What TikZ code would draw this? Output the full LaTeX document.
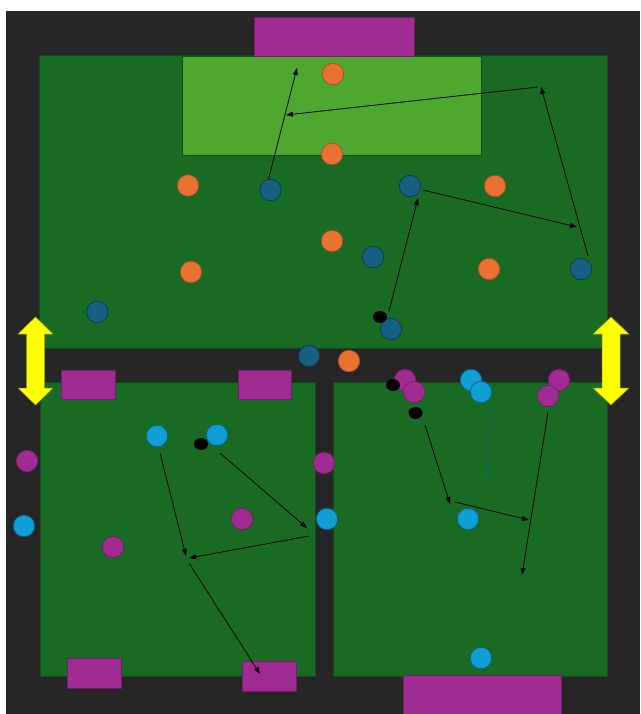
\documentclass[tikz,border=0pt]{standalone}
\usetikzlibrary{arrows.meta,shapes.geometric}
\definecolor{bgdark}{HTML}{262626}
\definecolor{pitch}{HTML}{196B24}
\definecolor{boxg}{HTML}{4EA72E}
\definecolor{goal}{HTML}{A02B93}
\definecolor{orng}{HTML}{E97132}
\definecolor{dblue}{HTML}{156082}
\definecolor{lblue}{HTML}{0F9ED5}
\definecolor{yel}{HTML}{FFFF00}
\begin{document}
\begin{tikzpicture}[x=1pt,y=-1pt,
  player/.style={circle, minimum size=21.5pt, inner sep=0pt, line width=0.7pt},
  orangep/.style={player, fill=orng, draw=orng!70!black},
  dbluep/.style={player, fill=dblue, draw=dblue!55!black},
  lbluep/.style={player, fill=lblue, draw=lblue!60!black},
  purplep/.style={player, fill=goal, draw=goal!70!black},
  ball/.style={ellipse, minimum width=14pt, minimum height=12pt, inner sep=0pt, fill=black},
  field/.style={fill=pitch, draw=pitch!70!black, line width=0.6pt},
  goalbox/.style={fill=goal, draw=goal!70!black, line width=0.6pt},
  mv/.style={draw=black, line width=0.8pt, -{Triangle[length=7pt,width=5pt]}},
  mvblue/.style={draw=dblue, line width=0.8pt, -{Triangle[length=6pt,width=4pt]}},
  yarrow/.style={fill=yel, draw=yel!60!black, line width=0.5pt}
]
\useasboundingbox (0,0) rectangle (640,714);
\fill[white] (0,0) rectangle (640,714);
\fill[bgdark] (6,11) rectangle (640,714);

% pitches
\path[field] (39,55) rectangle (607,348);
\path[fill=boxg, draw=pitch!70!black, line width=0.6pt] (182,56) rectangle (481,155);
\path[field] (40,382) rectangle (315,676);
\path[field] (333,382) rectangle (607,676);

% goals / boxes
\path[goalbox] (254,17) rectangle (414,56);
\path[goalbox] (61,370) rectangle (115,399);
\path[goalbox] (238,370) rectangle (291,399);
\path[goalbox] (67,658) rectangle (121,688);
\path[goalbox] (242,661) rectangle (296,691);
\path[goalbox] (403,675) rectangle (561,716);

% yellow double arrows
\path[yarrow] (35.5,317) -- (53,334) -- (44.5,334) -- (44.5,388) -- (53,388) -- (35.5,405)
  -- (18,388) -- (26.5,388) -- (26.5,334) -- (18,334) -- cycle;
\path[yarrow] (611,317) -- (629,334) -- (620,334) -- (620,388) -- (629,388) -- (611,405)
  -- (593,388) -- (602,388) -- (602,334) -- (593,334) -- cycle;

% movement coordinates
\coordinate (a1s) at (268.5,179); \coordinate (a1e) at (297,68);
\coordinate (a2s) at (538,87);    \coordinate (a2e) at (286,115);
\coordinate (a3s) at (588,256);   \coordinate (a3e) at (541,87);
\coordinate (a4s) at (423,190);   \coordinate (a4e) at (577,227);
\coordinate (a5s) at (389,311);   \coordinate (a5e) at (418,198);
\coordinate (b1s) at (160,453);   \coordinate (b1e) at (186,556);
\coordinate (b2s) at (220,453);   \coordinate (b2e) at (307,528);
\coordinate (b3s) at (309,536);   \coordinate (b3e) at (189,558);
\coordinate (b4s) at (189,563);   \coordinate (b4e) at (260,674);
\coordinate (c1s) at (425,425);   \coordinate (c1e) at (450,504);
\coordinate (c2s) at (455,502);   \coordinate (c2e) at (529,520);
\coordinate (c3s) at (548,412);   \coordinate (c3e) at (522,575);
\coordinate (c4s) at (491,403);   \coordinate (c4e) at (487,479);

\draw[mv] (a1s) -- (a1e);
\draw[mv] (a2s) -- (a2e);
\draw[mv] (a3s) -- (a3e);
\draw[mv] (a4s) -- (a4e);
\draw[mv] (a5s) -- (a5e);
\draw[mv] (b1s) -- (b1e);
\draw[mv] (b2s) -- (b2e);
\draw[mv] (b3s) -- (b3e);
\draw[mv] (b4s) -- (b4e);
\draw[mv] (c1s) -- (c1e);
\draw[mv] (c2s) -- (c2e);
\draw[mv] (c3s) -- (c3e);
\draw[mvblue] (c4s) -- (c4e);

% orange players
\node[orangep] (o1) at (333,74) {};
\node[orangep] (o2) at (332,154) {};
\node[orangep] (o3) at (188,185.5) {};
\node[orangep] (o4) at (495,186) {};
\node[orangep] (o5) at (332,241) {};
\node[orangep] (o6) at (191,272) {};
\node[orangep] (o7) at (489,269) {};
\node[orangep] (o8) at (349,361) {};

% dark blue players
\node[dbluep] (d1) at (270.5,190) {};
\node[dbluep] (d2) at (410,186) {};
\node[dbluep] (d3) at (373,257) {};
\node[dbluep] (d4) at (581,269) {};
\node[dbluep] (d5) at (97.5,312) {};
\node[dbluep] (d6) at (391,329) {};
\node[dbluep] (d7) at (309,356) {};

% purple players
\node[purplep] (p1) at (405,380) {};
\node[purplep] (p2) at (414,392) {};
\node[purplep] (p3) at (559,380) {};
\node[purplep] (p4) at (548,396) {};
\node[purplep] (p5) at (27,461) {};
\node[purplep] (p6) at (324,463) {};
\node[purplep] (p7) at (242,519) {};
\node[purplep] (p8) at (113,547) {};

% light blue players
\node[lbluep] (l1) at (471,380) {};
\node[lbluep] (l2) at (481,392) {};
\node[lbluep] (l3) at (157,436) {};
\node[lbluep] (l4) at (217,435) {};
\node[lbluep] (l5) at (24,526) {};
\node[lbluep] (l6) at (327,519) {};
\node[lbluep] (l7) at (468,519) {};
\node[lbluep] (l8) at (481,658) {};

% balls
\node[ball] (k1) at (380,317) {};
\node[ball] (k2) at (393,385) {};
\node[ball] (k3) at (415.5,413) {};
\node[ball] (k4) at (201,444) {};
\end{tikzpicture}
\end{document}
